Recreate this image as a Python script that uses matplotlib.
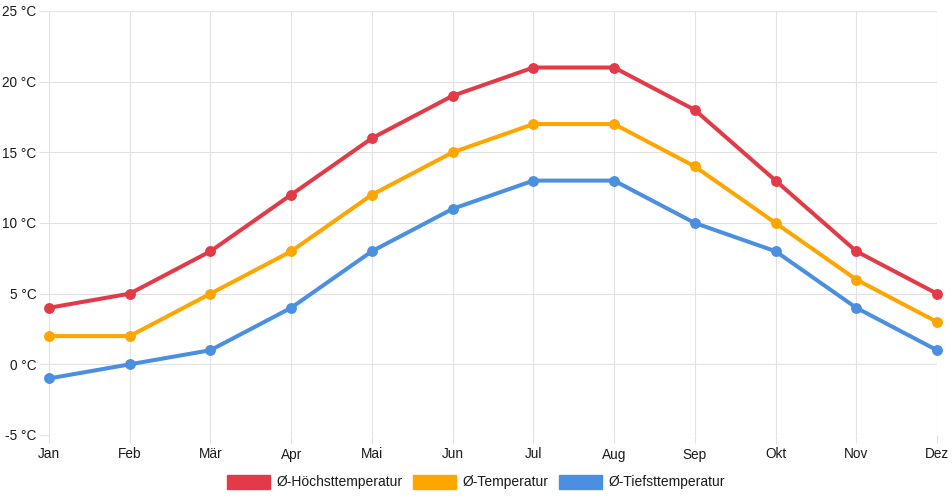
import matplotlib
matplotlib.use("Agg")
import matplotlib.pyplot as plt
from matplotlib.patches import Patch

plt.rcParams['font.family'] = ['Liberation Sans', 'DejaVu Sans']

months = ["Jan", "Feb", "Mär", "Apr", "Mai", "Jun", "Jul", "Aug", "Sep", "Okt", "Nov", "Dez"]
t_max = [4, 5, 8, 12, 16, 19, 21, 21, 18, 13, 8, 5]
t_mean = [2, 2, 5, 8, 12, 15, 17, 17, 14, 10, 6, 3]
t_min = [-1, 0, 1, 4, 8, 11, 13, 13, 10, 8, 4, 1]
y_ticks = [-5, 0, 5, 10, 15, 20, 25]

series = [
    ("Ø-Höchsttemperatur", t_max, "#e23b47"),
    ("Ø-Temperatur", t_mean, "#ffa500"),
    ("Ø-Tiefsttemperatur", t_min, "#4a8fe0"),
]

fig = plt.figure(figsize=(9.52, 5.0), dpi=100)
ax = fig.add_axes([49 / 952, 1 - 435 / 500, (937 - 49) / 952, (435 - 11) / 500])

x = list(range(len(months)))
handles = []
for label, vals, col in series:
    ax.plot(x, vals, color=col, lw=2.9, marker="o", ms=6.8, mec=col, mfc=col,
            solid_capstyle="round", zorder=3, clip_on=False)
    handles.append(Patch(facecolor=col, edgecolor=col, label=label))

ax.set_xlim(0, len(months) - 1)
ax.set_ylim(-5, 25)
ax.set_xticks(x)
ax.set_xticklabels(months)
ax.set_yticks(y_ticks)
ax.set_yticklabels([f"{v} °C" for v in y_ticks])
ax.grid(True, color="#e2e2e2", lw=0.8)
ax.set_axisbelow(True)
for s in ax.spines.values():
    s.set_visible(False)
ax.tick_params(axis="both", color="#e2e2e2", width=0.8,
               labelsize=9.8, labelcolor="#1a1a1a")
ax.tick_params(axis="x", length=5.5, pad=3.5)
ax.tick_params(axis="y", length=7.5, pad=1.5)

fig.legend(handles=handles, loc="center", bbox_to_anchor=(0.5, 1 - 482 / 500),
           ncol=3, frameon=False, fontsize=10, handlelength=3.1, handleheight=1.2,
           handletextpad=0.45, columnspacing=0.75, labelcolor="#1a1a1a")

fig.savefig("out.png", dpi=100)
